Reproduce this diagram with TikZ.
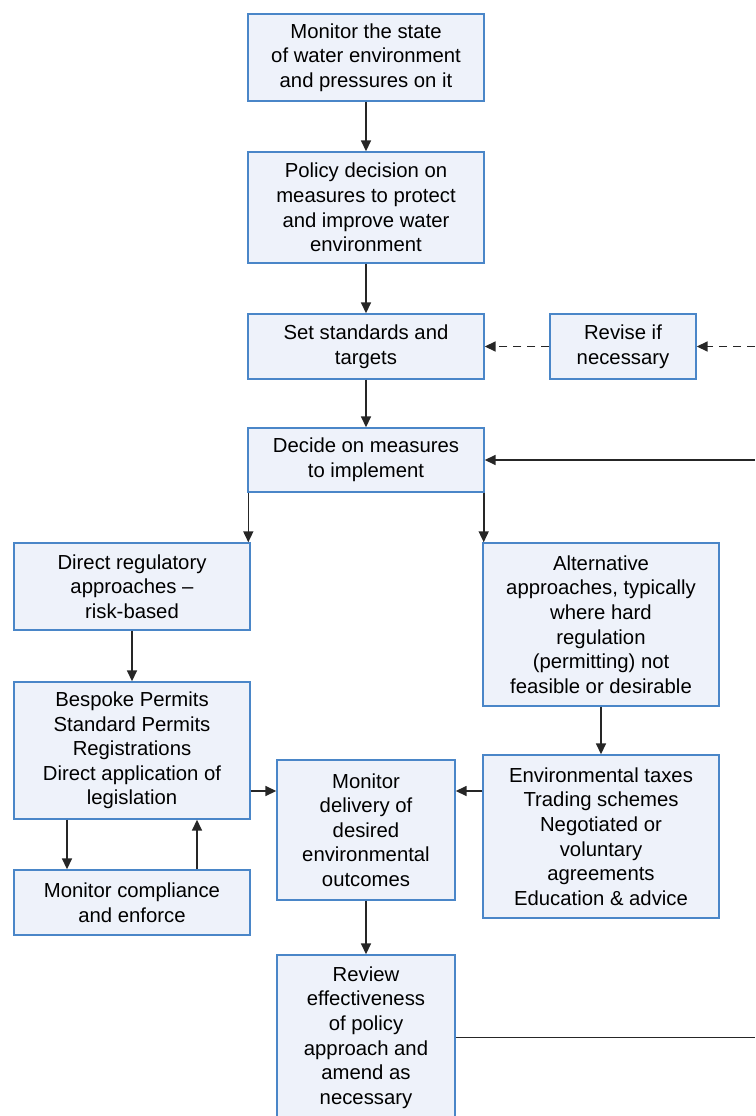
\documentclass[tikz,border=0pt]{standalone}
\usepackage{fontspec}
\setmainfont{Liberation Sans}
\usepackage{xcolor}
\usetikzlibrary{positioning,arrows.meta,calc}

\definecolor{boxfill}{HTML}{EEF2FA}
\definecolor{boxline}{HTML}{4A86C8}

\begin{document}
\begin{tikzpicture}[
    x=1pt, y=-1pt,
    font=\fontsize{20.3}{24.6}\selectfont,
    flow_box/.style={draw=boxline, fill=boxfill, line width=1.4pt, inner sep=0pt, align=center},
    wide_box/.style={flow_box, minimum width=236pt},
    mid_box/.style={flow_box, minimum width=178pt},
    arrow/.style={-{Triangle[length=11pt,width=10pt]}, line width=1.6pt, draw=black!85},
    dash_arrow/.style={arrow, dash pattern=on 8pt off 6pt}
]
\clip (0,0) rectangle (755,1116);

\node (monitor)  [wide_box, minimum height=87pt]  at (366,57.5)
    {Monitor the state\\of water environment\\and pressures on it};
\node (policy)   [wide_box, minimum height=111pt] at (366,207.5)
    {Policy decision on\\measures to protect\\and improve water\\environment};
\node (targets)  [wide_box, minimum height=65pt]  at (366,346.5)
    {Set standards and\\targets};
\node (revise)   [flow_box, minimum width=146pt, minimum height=65pt] at (623,346.5)
    {Revise if\\necessary};
\node (decide)   [wide_box, minimum height=64pt]  at (366,460)
    {Decide on measures\\to implement};
\node (direct)   [wide_box, minimum height=87pt]  at (132,586.5)
    {Direct regulatory\\approaches --\\risk-based};
\node (altern)   [wide_box, minimum height=163pt] at (601,624.5)
    {Alternative\\approaches, typically\\where hard\\regulation\\(permitting) not\\feasible or desirable};
\node (permits)  [wide_box, minimum height=137pt] at (132,750.5)
    {Bespoke Permits\\Standard Permits\\Registrations\\Direct application of\\legislation};
\node (comply)   [wide_box, minimum height=65pt]  at (132,902.5)
    {Monitor compliance\\and enforce};
\node (delivery) [mid_box, minimum height=140pt]  at (366,830)
    {Monitor\\delivery of\\desired\\environmental\\outcomes};
\node (taxes)    [wide_box, minimum height=163pt] at (601,836.5)
    {Environmental taxes\\Trading schemes\\Negotiated or\\voluntary\\agreements\\Education \& advice};
\node (review)   [mid_box, minimum height=165pt]  at (366,1037.5)
    {Review\\effectiveness\\of policy\\approach and\\amend as\\necessary};

% loose ends at the right margin
\coordinate (edge) at (755,0);
\coordinate (midrow) at (0,791);

\draw [arrow] (monitor) -- (policy);
\draw [arrow] (policy) -- (targets);
\draw [arrow] (targets) -- (decide);
\draw [dash_arrow] (revise) -- (targets);
\draw [dash_arrow] (revise.east -| edge) -- (revise);
\draw [arrow] (decide.east -| edge) -- (decide);

\draw [arrow] ([xshift=1pt]decide.south west) -- ([xshift=1pt]decide.south west |- direct.north);
\draw [arrow] ([xshift=-1pt]decide.south east) -- ([xshift=-1pt]decide.south east |- altern.north);
\draw [arrow] (direct) -- (permits);
\draw [arrow] (altern) -- (taxes);

\draw [arrow] (permits.east |- midrow) -- (delivery.west |- midrow);
\draw [arrow] (taxes.west |- midrow) -- (delivery.east |- midrow);
\draw [arrow] ([xshift=-65pt]permits.south) -- ([xshift=-65pt]comply.north);
\draw [arrow] ([xshift=65pt]comply.north) -- ([xshift=65pt]permits.south);
\draw [arrow] (delivery) -- (review);
\draw [line width=1.6pt, draw=black!85] (review.east) -- (review.east -| edge);

\end{tikzpicture}
\end{document}
